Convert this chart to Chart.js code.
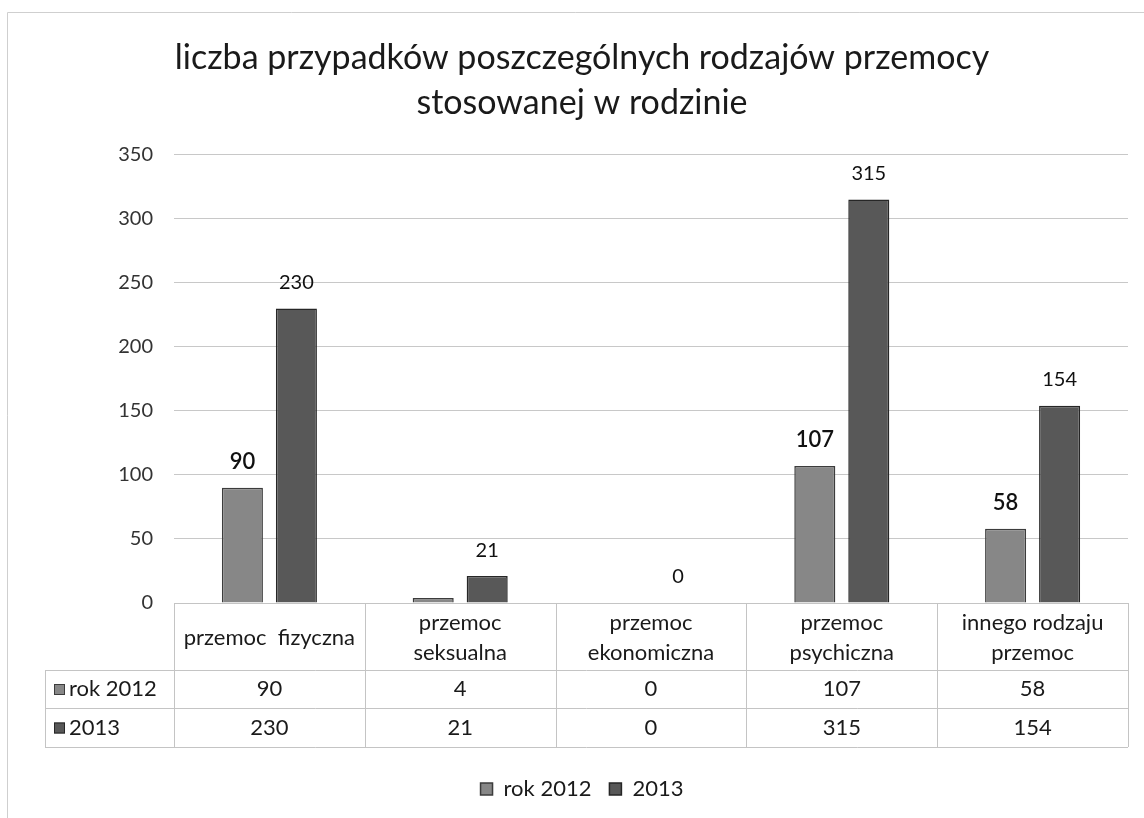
<!DOCTYPE html>
<html lang="pl">
<head>
<meta charset="utf-8">
<title>Przemoc w rodzinie</title>
<script src="https://cdn.jsdelivr.net/npm/chart.js@4/dist/chart.umd.min.js"></script>
<style>
    html, body { margin: 0; padding: 0; background: #fff; }
    #wrap { width: 1144px; height: 818px; }
</style>
</head>
<body>
<div id="wrap"><canvas id="wykres" width="1144" height="818"></canvas></div>
<script>
// Dane wykresu
const kategorie = ['przemoc  fizyczna', 'przemoc seksualna', 'przemoc ekonomiczna', 'przemoc psychiczna', 'innego rodzaju przemoc'];
const naglowkiTabeli = [['przemoc  fizyczna'], ['przemoc', 'seksualna'], ['przemoc', 'ekonomiczna'], ['przemoc', 'psychiczna'], ['innego rodzaju', 'przemoc']];
const rok2012 = [90, 4, 0, 107, 58];
const rok2013 = [230, 21, 0, 315, 154];
// ktore slupki maja etykiete nad soba
const etykiety2012 = [true, false, false, true, true];
const etykiety2013 = [true, true, true, true, true];
const nazwySerii = ['rok 2012', '2013'];
const tytul = ['liczba przypadków poszczególnych rodzajów przemocy', 'stosowanej w rodzinie'];

const FONT = 'Lato, "Open Sans", sans-serif';

// Ramka calego wykresu
const ramka = {
    id: 'ramka',
    beforeDraw(chart) {
        const ctx = chart.ctx;
        ctx.save();
        ctx.fillStyle = '#fff';
        ctx.fillRect(0, 0, chart.width, chart.height);
        ctx.strokeStyle = '#cfcfcf';
        ctx.lineWidth = 1;
        ctx.beginPath();
        ctx.moveTo(7.5, chart.height);
        ctx.lineTo(7.5, 12.5);
        ctx.lineTo(chart.width, 12.5);
        ctx.stroke();
        ctx.restore();
    }
};

// Etykiety wartosci nad slupkami
const etykietyWartosci = {
    id: 'etykietyWartosci',
    afterDatasetsDraw(chart) {
        const ctx = chart.ctx;
        const pokaz = [etykiety2012, etykiety2013];
        ctx.save();
        ctx.textAlign = 'center';
        ctx.textBaseline = 'middle';
        ctx.fillStyle = '#111';
        chart.data.datasets.forEach((ds, i) => {
            const meta = chart.getDatasetMeta(i);
            ctx.font = i === 0 ? '600 22px ' + FONT : '20px ' + FONT;
            meta.data.forEach((bar, j) => {
                if (!pokaz[i][j]) return;
                ctx.fillText(String(ds.data[j]), bar.x, bar.y - 26);
            });
        });
        ctx.restore();
    }
};

// Tabela danych pod wykresem
const tabelaDanych = {
    id: 'tabelaDanych',
    afterDraw(chart) {
        const ctx = chart.ctx;
        const skalaX = chart.scales.x;
        const obszar = chart.chartArea;
        const gora = obszar.bottom;
        const y1 = gora + 67;
        const y2 = y1 + 38;
        const y3 = y2 + 39;
        const lewa = 45;
        const granice = [];
        for (let i = 0; i <= kategorie.length; i++) {
            granice.push(skalaX.getPixelForValue(i - 0.5));
        }
        const prawa = granice[granice.length - 1];

        ctx.save();
        ctx.strokeStyle = '#c4c4c4';
        ctx.lineWidth = 1;
        ctx.beginPath();
        // linie poziome
        ctx.moveTo(granice[0], gora + 0.5); ctx.lineTo(prawa, gora + 0.5);
        [y1, y2, y3].forEach(y => { ctx.moveTo(lewa, y + 0.5); ctx.lineTo(prawa, y + 0.5); });
        // linie pionowe
        granice.forEach(x => { ctx.moveTo(Math.round(x) + 0.5, gora); ctx.lineTo(Math.round(x) + 0.5, y3); });
        ctx.moveTo(lewa + 0.5, y1); ctx.lineTo(lewa + 0.5, y3);
        ctx.stroke();

        ctx.fillStyle = '#1a1a1a';
        ctx.textAlign = 'center';
        ctx.textBaseline = 'middle';
        ctx.font = '22px ' + FONT;
        naglowkiTabeli.forEach((linie, i) => {
            const cx = (granice[i] + granice[i + 1]) / 2;
            const sy = (gora + y1) / 2 - (linie.length - 1) * 15 + 1;
            linie.forEach((t, k) => ctx.fillText(t, cx, sy + k * 30));
        });

        const wiersze = [[y1, y2], [y2, y3]];
        chart.data.datasets.forEach((ds, i) => {
            const cy = (wiersze[i][0] + wiersze[i][1]) / 2;
            ds.data.forEach((v, j) => {
                const cx = (granice[j] + granice[j + 1]) / 2;
                ctx.fillText(String(v), cx, cy);
            });
            // znacznik serii
            ctx.fillStyle = ds.backgroundColor;
            ctx.strokeStyle = ds.borderColor;
            ctx.fillRect(lewa + 9, cy - 5, 11, 11);
            ctx.strokeRect(lewa + 9.5, cy - 4.5, 10, 10);
            ctx.fillStyle = '#1a1a1a';
            ctx.textAlign = 'left';
            ctx.fillText(ds.label, lewa + 24, cy);
            ctx.textAlign = 'center';
        });
        ctx.restore();
    }
};

new Chart(document.getElementById('wykres'), {
    type: 'bar',
    data: {
        labels: kategorie,
        datasets: [{
            label: nazwySerii[0],
            data: rok2012,
            backgroundColor: '#878787',
            borderColor: '#3c3c3c',
            borderWidth: 1.5,
            categoryPercentage: 0.566,
            barPercentage: 0.76
        }, {
            label: nazwySerii[1],
            data: rok2013,
            backgroundColor: '#585858',
            borderColor: '#262626',
            borderWidth: 1.5,
            categoryPercentage: 0.566,
            barPercentage: 0.76
        }]
    },
    options: {
        responsive: false,
        animation: false,
        layout: { padding: { left: 36, right: 16, top: 0, bottom: 8 } },
        scales: {
            x: {
                grid: { display: false },
                border: { display: false },
                ticks: { display: false },
                afterFit: (scale) => { scale.height = 157; }
            },
            y: {
                min: 0,
                max: 350,
                ticks: { stepSize: 50, color: '#333', font: { family: FONT, size: 20 }, padding: 21 },
                grid: { color: '#c8c8c8', drawTicks: false },
                border: { display: false },
                afterFit: (scale) => { scale.width = 138; }
            }
        },
        plugins: {
            title: {
                display: true,
                text: tytul,
                color: '#1a1a1a',
                font: { family: FONT, size: 34, weight: 'normal', lineHeight: 1.32 },
                padding: { top: 36, bottom: 29 }
            },
            legend: {
                position: 'bottom',
                labels: {
                    color: '#1a1a1a',
                    font: { family: FONT, size: 22 },
                    boxWidth: 12,
                    boxHeight: 12,
                    padding: 18
                }
            },
            tooltip: { enabled: false }
        }
    },
    plugins: [ramka, etykietyWartosci, tabelaDanych]
});
</script>
</body>
</html>
